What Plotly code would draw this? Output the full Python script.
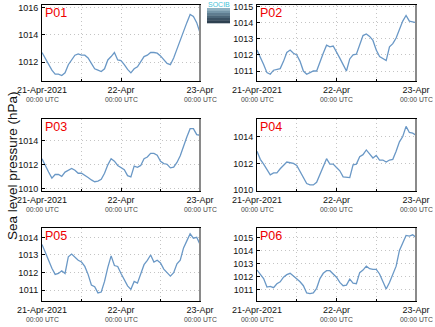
import plotly.graph_objects as go
import pandas as pd

times = pd.date_range("2021-04-21 00:00", "2021-04-23 00:00", freq="1h")

p01 = [1012.7, 1012.27, 1011.9, 1011.4, 1011.1, 1011.1, 1011.0, 1011.2, 1011.8, 1012.15,
       1012.5, 1012.6, 1012.5, 1012.5, 1012.3, 1011.9, 1011.5, 1011.4, 1011.3, 1011.5,
       1012.15, 1012.4, 1012.7, 1012.15, 1012.1, 1011.8, 1011.45, 1011.2, 1011.5, 1011.65,
       1012.0, 1012.4, 1012.5, 1012.7, 1012.7, 1012.65, 1012.45, 1012.15, 1011.9, 1011.8,
       1012.3, 1012.95, 1013.65, 1014.25, 1014.9, 1015.5, 1015.35, 1014.9, 1014.15]
p02 = [1012.3, 1011.9, 1011.4, 1010.9, 1010.8, 1011.05, 1011.1, 1011.15, 1011.6, 1012.15,
       1012.3, 1012.1, 1012.0, 1011.6, 1011.0, 1010.8, 1010.9, 1011.0, 1011.0, 1011.6,
       1012.1, 1012.6, 1012.5, 1012.55, 1012.2, 1011.8, 1011.4, 1011.0, 1011.75, 1012.0,
       1012.05, 1012.6, 1013.2, 1013.3, 1013.15, 1012.9, 1012.3, 1011.9, 1011.75, 1011.65,
       1012.5, 1012.7, 1013.05, 1013.6, 1014.1, 1014.45, 1014.1, 1014.05, 1014.0]
p03 = [1012.5, 1011.9, 1011.4, 1010.9, 1011.2, 1011.2, 1011.05, 1011.4, 1011.55, 1011.7,
       1011.55, 1011.3, 1011.3, 1011.15, 1010.95, 1010.75, 1010.6, 1010.65, 1010.8, 1011.3,
       1012.0, 1012.5, 1012.3, 1011.95, 1011.75, 1011.6, 1011.1, 1011.0, 1011.9, 1011.8,
       1011.95, 1012.5, 1012.65, 1012.95, 1012.95, 1012.8, 1012.3, 1012.1, 1012.05, 1011.75,
       1011.8, 1012.2, 1012.75, 1013.6, 1014.3, 1015.0, 1015.0, 1014.5, 1014.45]
p04 = [1012.9, 1012.3, 1011.95, 1011.5, 1011.15, 1011.3, 1011.3, 1011.6, 1011.85, 1012.1,
       1012.05, 1012.0, 1011.85, 1011.4, 1010.85, 1010.5, 1010.4, 1010.4, 1010.6, 1011.2,
       1011.8, 1012.35, 1011.95, 1011.95, 1011.7, 1011.45, 1011.0, 1011.0, 1010.95, 1011.9,
       1011.95, 1012.5, 1012.65, 1013.0, 1012.7, 1012.4, 1012.6, 1012.25, 1012.25, 1012.1,
       1012.25, 1012.3, 1012.9, 1013.6, 1014.0, 1014.75, 1014.3, 1014.25, 1014.1]
p05 = [1013.6, 1013.1, 1012.7, 1012.25, 1011.9, 1011.95, 1012.1, 1011.95, 1012.9, 1013.05,
       1012.85, 1012.7, 1012.6, 1012.35, 1011.9, 1011.3, 1011.2, 1010.85, 1010.9, 1011.5,
       1012.3, 1012.95, 1012.4, 1012.35, 1011.95, 1011.6, 1011.25, 1011.05, 1011.5, 1011.4,
       1011.95, 1012.45, 1012.7, 1013.0, 1012.6, 1012.7, 1012.55, 1012.2, 1012.0, 1011.8,
       1012.0, 1012.5, 1012.7, 1013.4, 1013.8, 1014.2, 1013.95, 1014.0, 1013.6]
p06 = [1012.5, 1012.15, 1011.85, 1011.2, 1011.25, 1011.15, 1011.45, 1011.6, 1011.95, 1012.15,
       1012.25, 1012.05, 1011.85, 1011.6, 1011.3, 1010.75, 1010.7, 1010.75, 1011.1, 1011.85,
       1012.25, 1012.45, 1012.45, 1012.2, 1011.95, 1011.55, 1011.3, 1011.35, 1011.8, 1011.5,
       1011.45, 1012.3, 1012.5, 1012.8, 1012.6, 1012.55, 1012.55, 1012.2, 1011.6, 1011.05,
       1011.55, 1012.15, 1012.8, 1014.0, 1014.55, 1015.15, 1015.1, 1015.2, 1015.0]

names = ["P01", "P02", "P03", "P04", "P05", "P06"]
series = [p01, p02, p03, p04, p05, p06]
yranges = [[1010.6, 1016.2], [1010.38, 1015.1], [1009.83, 1015.8],
           [1009.95, 1015.3], [1010.39, 1014.53], [1010.13, 1015.72]]
ydticks = [2, 1, 2, 2, 1, 1]
xtick_vals = ["2021-04-21 00:00", "2021-04-22 00:00", "2021-04-23 00:00"]
xtick_text = ["21-Apr-2021", "22-Apr", "23-Apr"]
ylabel = "Sea level pressure (hPa)"

W, H = 435, 327
col_px = [(42, 200), (257, 416)]
row_px = [(5, 81), (119, 191), (228, 301)]
FONT = "Liberation Sans, Arial"
GRID = "#c4c4c4"
GDASH = "1px,3px"

fig = go.Figure()
annotations = []
shapes = []
for i, (nm, vals) in enumerate(zip(names, series)):
    r, c = divmod(i, 2)
    n = i + 1
    xa = "xaxis" if n == 1 else f"xaxis{n}"
    ya = "yaxis" if n == 1 else f"yaxis{n}"
    xr = "x" if n == 1 else f"x{n}"
    yr = "y" if n == 1 else f"y{n}"
    fig.add_trace(go.Scatter(x=times, y=vals, mode="lines",
                             line=dict(color="#6a98c6", width=1.3),
                             xaxis=xr, yaxis=yr, showlegend=False))
    x0, x1 = col_px[c]
    y0, y1 = row_px[r]
    fig.layout[xa] = dict(
        domain=[x0 / W, x1 / W], anchor=yr, type="date", automargin=False,
        range=[xtick_vals[0], xtick_vals[-1]],
        tickmode="array", tickvals=xtick_vals, ticktext=xtick_text,
        ticks="inside", ticklen=3, tickcolor="#000",
        showline=True, linecolor="#000", linewidth=1, mirror=True,
        showgrid=True, gridcolor=GRID, griddash=GDASH, gridwidth=1,
        minor=dict(dtick=12 * 3600 * 1000, showgrid=True, gridcolor=GRID,
                   griddash=GDASH, ticks="inside", ticklen=2, tickcolor="#000"),
        tickfont=dict(family=FONT, size=9, color="#111"),
        zeroline=False, fixedrange=True,
    )
    fig.layout[ya] = dict(
        domain=[1 - y1 / H, 1 - y0 / H], anchor=xr, automargin=False,
        range=yranges[i], dtick=ydticks[i], tick0=1010,
        ticks="inside", ticklen=3, tickcolor="#000",
        showline=True, linecolor="#000", linewidth=1, mirror=True,
        showgrid=True, gridcolor=GRID, griddash=GDASH, gridwidth=1,
        tickfont=dict(family=FONT, size=9, color="#111"),
        zeroline=False, fixedrange=True, ticklabelstandoff=1,
    )
    shapes.append(dict(type="line", xref=f"{xr} domain", yref=f"{yr} domain",
                       x0=1, x1=1, y0=0, y1=1,
                       line=dict(color="#8a8a8a", width=2)))
    annotations.append(dict(text=nm, xref=f"{xr} domain", yref=f"{yr} domain",
                            x=0, y=1, xanchor="left", yanchor="top",
                            xshift=1, yshift=1, showarrow=False,
                            font=dict(family=FONT, size=12.5, color="#ee0000")))
    for tv in xtick_vals:
        annotations.append(dict(text="00:00 UTC", xref=xr, yref=f"{yr} domain",
                                x=tv, y=0, yshift=-18, yanchor="middle",
                                xanchor="center", showarrow=False,
                                font=dict(family=FONT, size=6.8, color="#444")))

annotations.append(dict(text=ylabel, xref="paper", yref="paper", x=12 / W, y=1 - 166 / H,
                        xanchor="center", yanchor="middle", textangle=-90, showarrow=False,
                        font=dict(family=FONT, size=13.5, color="#111")))

# logo
shades = ["#8fb2c2", "#7596a8", "#5f7d90", "#4b6678", "#3b5263", "#2e4150"]
step = 15 / len(shades)
for k, col in enumerate(shades):
    top = 8 + k * step
    shapes.append(dict(type="rect", xref="paper", yref="paper",
                       x0=207 / W, x1=230 / W,
                       y0=1 - (top + step + 0.3) / H, y1=1 - top / H,
                       fillcolor=col, line=dict(width=0), layer="above"))
annotations.append(dict(text="SOCIB", xref="paper", yref="paper", x=218.5 / W, y=1 - 4.5 / H,
                        xanchor="center", yanchor="middle", showarrow=False,
                        font=dict(family=FONT, size=7, color="#3fc3d8")))

fig.update_layout(width=W, height=H, margin=dict(l=0, r=0, t=0, b=0, autoexpand=False),
                  paper_bgcolor="white", plot_bgcolor="white",
                  annotations=annotations, shapes=shapes)
fig.write_html("out.html")
